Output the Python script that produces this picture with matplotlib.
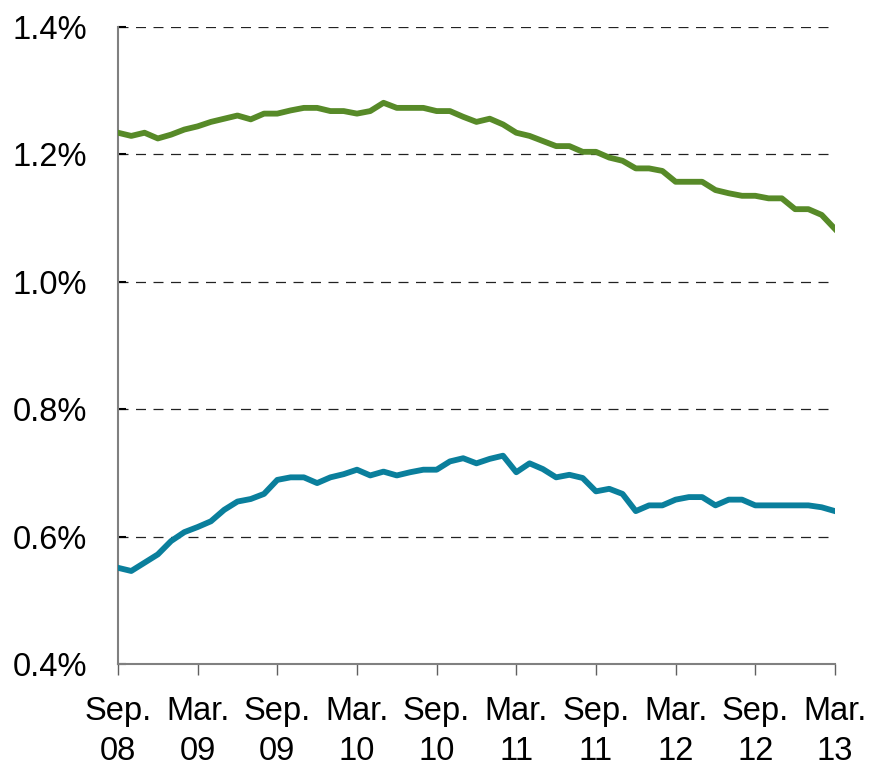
import numpy as np
import matplotlib
matplotlib.use("Agg")
import matplotlib.pyplot as plt

# monthly data, Sep 2008 .. Mar 2013 (values in %)
green = [1.234, 1.229, 1.234, 1.225, 1.231, 1.239, 1.244, 1.251, 1.256, 1.261,
         1.255, 1.264, 1.264, 1.269, 1.273, 1.273, 1.268, 1.268, 1.264, 1.268,
         1.281, 1.273, 1.273, 1.273, 1.268, 1.268, 1.259, 1.251, 1.256, 1.247,
         1.234, 1.229, 1.221, 1.213, 1.213, 1.204, 1.204, 1.195, 1.190, 1.178,
         1.178, 1.174, 1.157, 1.157, 1.157, 1.144, 1.139, 1.135, 1.135, 1.131,
         1.131, 1.114, 1.114, 1.105, 1.083]
blue = [0.551, 0.546, 0.559, 0.572, 0.593, 0.607, 0.615, 0.624, 0.642, 0.655,
        0.659, 0.667, 0.689, 0.693, 0.693, 0.684, 0.693, 0.698, 0.705, 0.696,
        0.702, 0.696, 0.701, 0.705, 0.705, 0.718, 0.723, 0.715, 0.722, 0.727,
        0.701, 0.715, 0.706, 0.693, 0.697, 0.692, 0.671, 0.675, 0.667, 0.640,
        0.649, 0.649, 0.658, 0.662, 0.662, 0.649, 0.658, 0.658, 0.649, 0.649,
        0.649, 0.649, 0.649, 0.646, 0.640]
tick_labels = ["Sep.\n08", "Mar.\n09", "Sep.\n09", "Mar.\n10", "Sep.\n10",
               "Mar.\n11", "Sep.\n11", "Mar.\n12", "Sep.\n12", "Mar.\n13"]
y_ticks = [0.4, 0.6, 0.8, 1.0, 1.2, 1.4]

plt.rcParams["font.family"] = ["Liberation Sans", "DejaVu Sans"]

fig = plt.figure(figsize=(8.7, 7.71), dpi=100)
ax = fig.add_axes([0.1356, 0.1388, 0.8241, 0.8262])

x = np.arange(len(green))
ax.plot(x, green, color="#578a28", lw=4.2, solid_joinstyle="round", zorder=3)
ax.plot(x, blue, color="#0a7f9c", lw=4.2, solid_joinstyle="round", zorder=3)

for v in y_ticks[1:]:
    ax.axhline(v, color="#222222", lw=0.9, dashes=(8, 6), zorder=1)

ax.set_xlim(0, len(green) - 1)
ax.set_ylim(0.4, 1.4)
ax.set_xticks(np.arange(0, len(green), 6))
ax.set_xticklabels(tick_labels, fontsize=23.5, linespacing=1.38)
ax.set_yticks(y_ticks)
ax.set_yticklabels([f"{v:.1f}%" for v in y_ticks], fontsize=23.5)

for s in ["top", "right"]:
    ax.spines[s].set_visible(False)
for s in ["left", "bottom"]:
    ax.spines[s].set_color("#808080")
    ax.spines[s].set_linewidth(1.5)

ax.tick_params(axis="x", direction="out", length=8, width=1, color="#606060", pad=15)
ax.tick_params(axis="y", direction="in", length=6, width=1.5, color="black", pad=22)

fig.savefig("out.png", dpi=100)
